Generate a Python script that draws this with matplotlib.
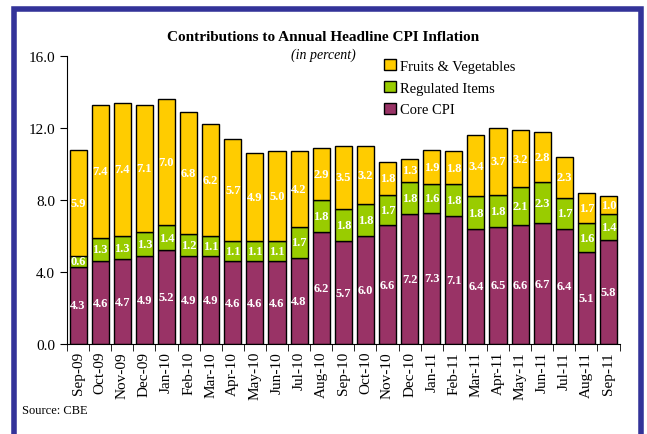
import numpy as np
import matplotlib.pyplot as plt
from matplotlib.patches import Rectangle

months = ["Sep-09", "Oct-09", "Nov-09", "Dec-09", "Jan-10", "Feb-10", "Mar-10",
          "Apr-10", "May-10", "Jun-10", "Jul-10", "Aug-10", "Sep-10", "Oct-10",
          "Nov-10", "Dec-10", "Jan-11", "Feb-11", "Mar-11", "Apr-11", "May-11",
          "Jun-11", "Jul-11", "Aug-11", "Sep-11"]
core = [4.3, 4.6, 4.7, 4.9, 5.2, 4.9, 4.9, 4.6, 4.6, 4.6, 4.8, 6.2, 5.7, 6.0,
        6.6, 7.2, 7.3, 7.1, 6.4, 6.5, 6.6, 6.7, 6.4, 5.1, 5.8]
regulated = [0.6, 1.3, 1.3, 1.3, 1.4, 1.2, 1.1, 1.1, 1.1, 1.1, 1.7, 1.8, 1.8, 1.8,
             1.7, 1.8, 1.6, 1.8, 1.8, 1.8, 2.1, 2.3, 1.7, 1.6, 1.4]
fruits = [5.9, 7.4, 7.4, 7.1, 7.0, 6.8, 6.2, 5.7, 4.9, 5.0, 4.2, 2.9, 3.5, 3.2,
          1.8, 1.3, 1.9, 1.8, 3.4, 3.7, 3.2, 2.8, 2.3, 1.7, 1.0]

plt.rcParams['font.family'] = 'Liberation Serif'

fig = plt.figure(figsize=(6.47, 4.35), dpi=100)
ax = fig.add_axes([0.1036, 0.207, 0.854, 0.662])

x = np.arange(len(months))
core = np.array(core)
regulated = np.array(regulated)
fruits = np.array(fruits)
w = 0.77
b1 = ax.bar(x, core, w, color="#993366", edgecolor="black", linewidth=1, label="Core CPI")
b2 = ax.bar(x, regulated, w, bottom=core, color="#99CC00", edgecolor="black", linewidth=1,
            label="Regulated Items")
b3 = ax.bar(x, fruits, w, bottom=core + regulated, color="#FFCC00", edgecolor="black",
            linewidth=1, label="Fruits & Vegetables")

for i in range(len(months)):
    ax.text(x[i], core[i] / 2, "%.1f" % core[i], ha="center", va="center",
            color="white", fontweight="bold", fontsize=9)
    ax.text(x[i], core[i] + regulated[i] / 2, "%.1f" % regulated[i], ha="center",
            va="center", color="white", fontweight="bold", fontsize=9)
    ax.text(x[i], core[i] + regulated[i] + fruits[i] / 2, "%.1f" % fruits[i],
            ha="center", va="center", color="white", fontweight="bold", fontsize=9)

ax.set_ylim(0, 16)
ax.set_xlim(-0.5, len(months) - 0.5)
ax.set_yticks([0, 4, 8, 12, 16])
ax.set_yticklabels(["%.1f" % v for v in [0, 4, 8, 12, 16]], fontsize=11)
ax.set_xticks(x)
ax.set_xticklabels(months, rotation=90, fontsize=11)
ax.set_xticks(np.arange(-0.5, len(months), 1), minor=True)
ax.tick_params(axis="x", which="major", length=0, pad=5)
ax.tick_params(axis="x", which="minor", length=5, direction="out")
ax.tick_params(axis="y", length=5, direction="out")
ax.spines["top"].set_visible(False)
ax.spines["right"].set_visible(False)

fig.text(0.50, 0.905, "Contributions to Annual Headline CPI Inflation", ha="center",
         fontsize=11, fontweight="bold")
fig.text(0.50, 0.865, "(in percent)", ha="center", fontsize=10, style="italic")
fig.text(0.034, 0.048, "Source: CBE", fontsize=9)

handles = [b3, b2, b1]
ax.legend(handles, [h.get_label() for h in handles], loc="upper left",
          bbox_to_anchor=(0.585, 0.875), bbox_transform=fig.transFigure, frameon=False,
          fontsize=10.5, handlelength=0.8, handleheight=0.8, handletextpad=0.3,
          labelspacing=0.55, borderaxespad=0)

fig.patches.append(Rectangle((13.5 / 647, -0.05), 627 / 647, 1.05 - 9.5 / 435,
                             transform=fig.transFigure, fill=False,
                             edgecolor="#333399", linewidth=4, figure=fig))

fig.savefig("out.png", dpi=100)
